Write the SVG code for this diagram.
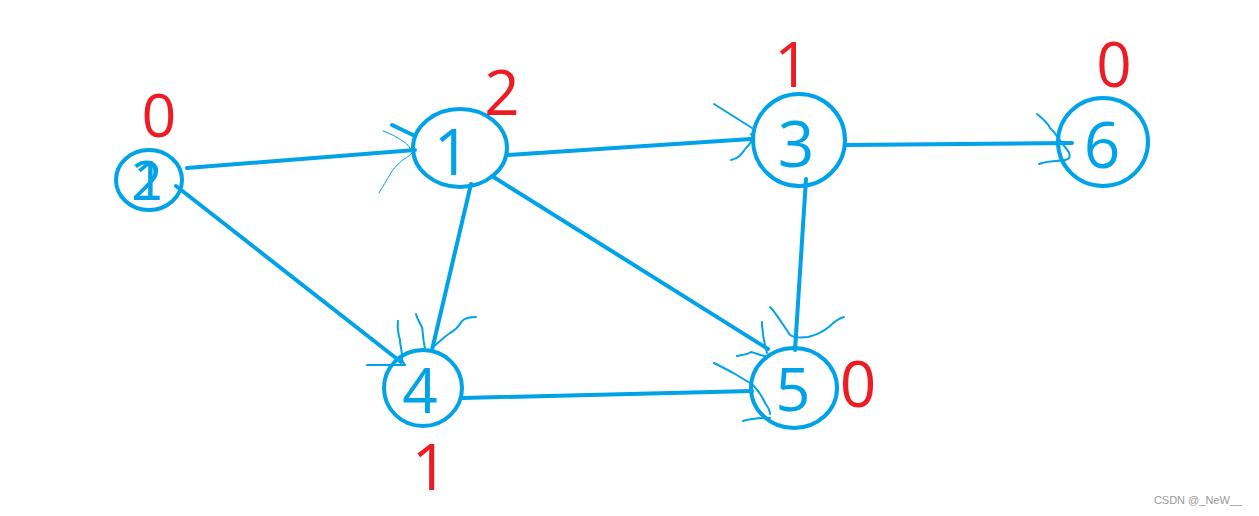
<svg xmlns="http://www.w3.org/2000/svg" width="1259" height="516" viewBox="0 0 1259 516">
<style>
.node{fill:none;stroke:#00A2E8;stroke-width:4}
.edge{fill:none;stroke:#00A2E8;stroke-width:4;stroke-linecap:round}
.scr{fill:none;stroke:#00A2E8;stroke-width:2;stroke-linecap:round;stroke-linejoin:round}
.thin{fill:none;stroke:#00A2E8;stroke-width:1;stroke-linecap:round}
.lbl{font-family:"Open Sans","Liberation Sans",sans-serif;fill:#00A2E8;text-anchor:middle}
.red{font-family:"Open Sans","Liberation Sans",sans-serif;fill:#ED1C24;text-anchor:middle}
</style>
<rect width="1259" height="516" fill="#ffffff"/>
<g id="connectors">
<line class="edge" x1="187" y1="168" x2="415" y2="150"/>
<line class="edge" x1="176" y1="186" x2="401" y2="362"/>
<line class="edge" x1="508" y1="155" x2="751" y2="139"/>
<line class="edge" x1="846" y1="145" x2="1072" y2="143"/>
<line class="edge" x1="471" y1="184" x2="432" y2="350"/>
<line class="edge" x1="492" y1="176" x2="768" y2="349"/>
<line class="edge" x1="806" y1="179" x2="795" y2="350"/>
<line class="edge" x1="463" y1="398" x2="752" y2="391"/>
<!-- arrowhead scribbles -->
<path class="edge" d="M392,125 L413,135"/>
<path class="thin" d="M383,131 C392,134 398,138 404,142 C408,144 409,148 413,152"/>
<path class="thin" d="M379,193 C385,183 388,178 392,171 C396,166 400,162 404,159 C408,157 410,155 413,152"/>
<path class="scr" d="M714,104 L752,128"/>
<path class="scr" d="M751,134 C755,138 750,144 746,148 C742,153 740,158 731,160"/>
<path class="scr" d="M1037,114 C1042,118 1048,123 1050,128 C1055,132 1058,138 1064,146 C1068,150 1072,156 1068,159 C1060,162 1050,160 1039,164"/>
<path class="scr" d="M367,365 L405,365 L402,360 C403,352 400,347 400,340 C398,333 397,328 398,321"/>
<path class="scr" d="M425,348 C423,341 423,332 422,327 C419,322 417,318 416,314"/>
<path class="scr" d="M432,348 C438,343 444,337 450,333 C456,330 459,326 462,321 C465,318 471,317 476,317"/>
<path class="scr" d="M767,353 C765,345 763,338 763,333 C762,328 762,325 762,322"/>
<path class="scr" d="M770,307 C775,312 777,316 780,320 C783,325 787,330 790,335 C795,338 800,338 808,337 C815,335 822,333 830,326 C836,320 840,318 844,317"/>
<path class="scr" d="M768,357 C760,355 755,353 751,352 C747,355 741,355 737,356"/>
<path class="scr" d="M714,363 C720,366 728,370 735,374 C740,377 745,380 752,384 C758,390 762,396 765,403 C768,407 770,410 770,414"/>
<path class="scr" d="M743,421 C750,419 760,418 770,418"/>
</g>
<g id="node-2">
<ellipse class="node" cx="149" cy="180" rx="33" ry="30"/>
<text class="lbl" x="147" y="200" font-size="55">2</text>
<text class="lbl" x="149" y="200" font-size="55">1</text>
<text class="red" x="159" y="137" font-size="61">0</text>
</g>
<g id="node-1">
<ellipse class="node" cx="460" cy="148" rx="47" ry="39"/>
<text class="lbl" x="452" y="175" font-size="64">1</text>
<text class="red" x="502" y="115" font-size="62">2</text>
</g>
<g id="node-3">
<ellipse class="node" cx="799" cy="140" rx="46" ry="46"/>
<text class="lbl" x="796" y="167" font-size="64">3</text>
<text class="red" x="792" y="87" font-size="62">1</text>
</g>
<g id="node-6">
<ellipse class="node" cx="1103" cy="142" rx="45" ry="44"/>
<text class="lbl" x="1102" y="168" font-size="64">6</text>
<text class="red" x="1114" y="87" font-size="62">0</text>
</g>
<g id="node-4">
<ellipse class="node" cx="423" cy="388" rx="39" ry="38"/>
<text class="lbl" x="420" y="413" font-size="62">4</text>
<text class="red" x="430" y="490" font-size="64">1</text>
</g>
<g id="node-5">
<ellipse class="node" cx="794" cy="388" rx="43" ry="40"/>
<text class="lbl" x="793" y="411" font-size="61">5</text>
<text class="red" x="858" y="407" font-size="64">0</text>
</g>
<text x="1198" y="504" font-family="'Liberation Sans',sans-serif" font-size="11" fill="#999999" text-anchor="middle">CSDN @_NeW__</text>
</svg>
